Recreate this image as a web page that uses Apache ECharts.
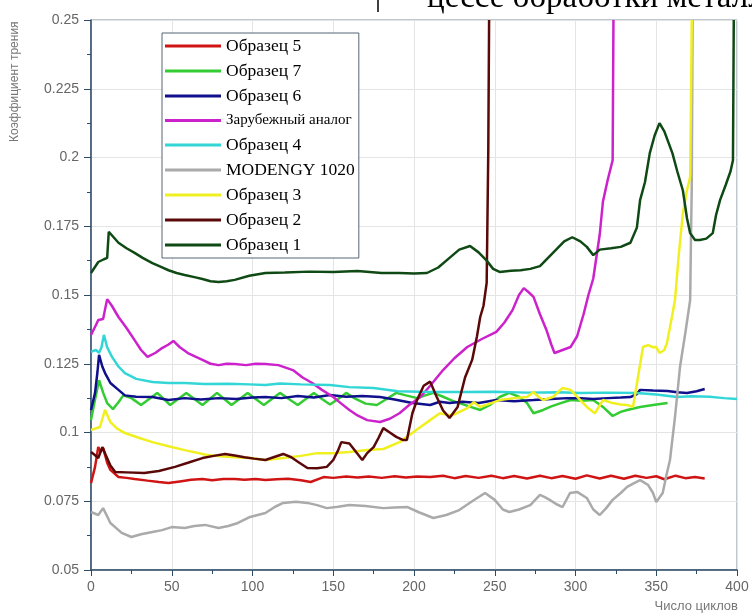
<!DOCTYPE html>
<html><head><meta charset="utf-8">
<script src="https://cdn.jsdelivr.net/npm/echarts@6/dist/echarts.min.js"></script>
<style>html,body{margin:0;padding:0;background:#fff}#c{width:752px;height:615px}</style>
</head><body><div id="c"></div>
<script>
// ---- data ----
const seriesNames = ['Образец 5','Образец 7','Образец 6','Зарубежный аналог','Образец 4','MODENGY 1020','Образец 3','Образец 2','Образец 1'];
const xTicks = [0,50,100,150,200,250,300,350,400];
const yTicks = [0.05,0.075,0.1,0.125,0.15,0.175,0.2,0.225,0.25];

const s5 = [[0,0.0816],[2.5,0.0875],[4.5,0.0947],[6,0.093],[7.5,0.0944],[10,0.089],[12,0.0864],[17,0.0838],[22,0.0835],[27,0.0831],[35,0.0825],[42,0.082],[48,0.0816],[55,0.0822],[62,0.0828],[69,0.0831],[75,0.0826],[82,0.0831],[89,0.0831],[95,0.0828],[102,0.0831],[108,0.0827],[115,0.083],[122,0.0832],[130,0.0826],[136,0.082],[144,0.0838],[150,0.0835],[158,0.084],[165,0.0836],[172,0.084],[180,0.0835],[188,0.0841],[195,0.0836],[202,0.084],[210,0.0838],[218,0.0843],[225,0.0834],[232,0.0842],[240,0.0835],[248,0.0843],[255,0.0834],[262,0.0842],[270,0.0833],[278,0.0843],[285,0.0834],[292,0.0842],[300,0.0832],[307,0.0844],[315,0.0833],[322,0.0843],[330,0.0832],[337,0.0843],[344,0.0835],[350,0.0841],[355,0.083],[362,0.0843],[368,0.0834],[374,0.0838],[380,0.0833]];
const s7 = [[0,0.1045],[2.5,0.112],[5,0.119],[7.5,0.1145],[10,0.1107],[13.6,0.1085],[17,0.111],[20,0.1135],[25,0.1125],[31,0.11],[36,0.1122],[41,0.1144],[45,0.1122],[49,0.11],[54,0.1122],[59,0.1144],[64,0.1122],[69,0.11],[73.5,0.1122],[78,0.1144],[82.5,0.1122],[87,0.11],[92,0.1122],[97,0.1144],[102,0.1122],[107,0.11],[112,0.1122],[117,0.1144],[122.5,0.1122],[128,0.11],[133,0.1122],[138,0.1144],[143,0.1122],[148,0.1102],[153,0.1122],[158,0.1144],[163,0.1125],[170,0.1105],[177,0.11],[183,0.1122],[189,0.1144],[195,0.1135],[202,0.1125],[207,0.1135],[212,0.1144],[218,0.113],[224,0.1115],[230,0.1103],[235,0.1093],[241,0.1082],[247,0.11],[253,0.1129],[259,0.1144],[265,0.113],[270,0.1107],[274,0.107],[280,0.1082],[285,0.1095],[290,0.1105],[297,0.1118],[304,0.1115],[311,0.1118],[317,0.1093],[323,0.106],[328,0.1075],[332,0.1082],[340,0.1093],[348,0.11],[357,0.1107]];
const s6 = [[0,0.1082],[2.5,0.1144],[4,0.122],[5,0.1282],[7,0.124],[8.7,0.1216],[12,0.118],[17,0.1155],[21,0.1135],[28,0.113],[38,0.1129],[48,0.1118],[58,0.1125],[68,0.112],[79,0.1125],[90,0.1122],[100,0.1127],[108,0.1129],[118,0.1125],[128,0.1133],[138,0.1127],[148,0.1136],[158,0.113],[168,0.1133],[179,0.1129],[188,0.112],[199,0.1107],[210,0.11],[216,0.1112],[222,0.1107],[230,0.1112],[240,0.1107],[251,0.1118],[262,0.1114],[274,0.1118],[285,0.1122],[295,0.1125],[303,0.1125],[311,0.1122],[320,0.1125],[328,0.1127],[334,0.1129],[338,0.114],[340,0.1155],[348,0.1153],[357,0.1151],[363,0.1146],[369,0.1144],[375,0.115],[380,0.1158]];
const sForeign = [[0,0.1355],[3,0.139],[4.5,0.1409],[7.5,0.1413],[10,0.1485],[13,0.146],[17,0.142],[22,0.138],[27,0.1336],[31,0.13],[35,0.1275],[40,0.129],[44,0.1307],[48,0.132],[51,0.1333],[55,0.131],[60,0.1289],[65,0.1275],[69,0.1264],[74,0.125],[79,0.1245],[84,0.125],[89,0.1249],[96,0.1245],[102,0.125],[108,0.1249],[116,0.1245],[125,0.1227],[131,0.12],[137,0.118],[143,0.1155],[150,0.1129],[155,0.1105],[160,0.1082],[165,0.1062],[171,0.1045],[179,0.1038],[185,0.105],[191,0.107],[197,0.11],[204,0.1129],[210,0.117],[218,0.1227],[225,0.127],[233,0.1311],[242,0.134],[251,0.1366],[256,0.14],[261,0.1445],[265,0.15],[268,0.1525],[271,0.151],[274,0.1493],[278,0.143],[282,0.1373],[285,0.132],[287,0.1289],[292,0.13],[297,0.1311],[301,0.135],[305,0.143],[308,0.15],[311,0.156],[315,0.172],[317,0.184],[320,0.192],[323,0.199],[323.5,0.25]];
const s4 = [[0,0.1293],[3,0.13],[5,0.129],[6.5,0.131],[8,0.1355],[10,0.131],[13,0.1275],[17,0.124],[21,0.1216],[28,0.1195],[38,0.1184],[48,0.118],[58,0.118],[70,0.1176],[85,0.1177],[98,0.1175],[108,0.1173],[117,0.1178],[130,0.1175],[148,0.1173],[160,0.1165],[175,0.1162],[190,0.115],[210,0.1147],[230,0.1147],[250,0.1148],[270,0.1145],[290,0.1146],[303,0.1144],[320,0.1145],[338,0.1144],[350,0.1138],[363,0.1129],[372,0.1132],[383,0.113],[392,0.1125],[400,0.1122]];
const sModengy = [[0,0.0711],[4.5,0.07],[7.5,0.0725],[12,0.0671],[19,0.0635],[25,0.062],[31,0.063],[38,0.0638],[44,0.0645],[50,0.0656],[58,0.0653],[64,0.066],[70.6,0.0664],[79,0.0653],[85,0.066],[91,0.0671],[98.5,0.0693],[108,0.0707],[114,0.073],[119,0.0744],[127,0.0748],[134,0.0744],[140,0.0736],[146,0.0725],[153,0.073],[160,0.0736],[170,0.0733],[181,0.0725],[188,0.0727],[196,0.0729],[203,0.071],[212,0.0689],[220,0.07],[228,0.0718],[236,0.075],[244,0.078],[250,0.0755],[255,0.072],[259,0.0711],[265,0.072],[272,0.0736],[278,0.0773],[281,0.0765],[284,0.0755],[288,0.074],[292,0.0729],[296.6,0.078],[301,0.0784],[307,0.0762],[311,0.072],[315,0.07],[319,0.0725],[323,0.0755],[328,0.078],[332,0.0802],[336,0.0815],[340,0.0827],[345,0.0809],[348,0.078],[350,0.0747],[354,0.078],[356.5,0.085],[358.5,0.09],[361.6,0.1056],[364.7,0.1238],[368,0.1362],[371,0.1482],[371.5,0.17],[372,0.19],[372.5,0.25]];
const s3 = [[0,0.1009],[5.5,0.102],[8.7,0.1082],[12,0.1038],[16,0.1015],[21,0.0998],[30,0.098],[38,0.0965],[48,0.095],[58,0.0936],[72,0.0918],[80,0.0914],[89,0.091],[98.5,0.0907],[108,0.09],[119,0.0907],[130,0.0915],[140,0.0925],[150,0.0925],[160,0.0929],[171,0.0936],[181,0.094],[191,0.0965],[197,0.099],[204,0.102],[210,0.1045],[216,0.107],[220,0.1065],[224,0.1063],[233,0.1089],[237,0.111],[241,0.1093],[247,0.1105],[253,0.1118],[262,0.1125],[270,0.1129],[274,0.1147],[277,0.113],[280,0.1118],[286,0.1129],[292,0.1162],[297,0.1155],[303,0.1118],[307,0.1093],[312,0.107],[317,0.1118],[323,0.1107],[328,0.1102],[332,0.11],[335.6,0.1093],[338.7,0.1202],[341.8,0.1311],[345,0.1318],[348,0.131],[350,0.1311],[352,0.1289],[355,0.13],[356.6,0.1325],[359.7,0.142],[361.6,0.1482],[364,0.165],[366.5,0.1798],[369,0.188],[371,0.193],[371.5,0.22],[372,0.25]];
const s2 = [[0,0.0929],[2,0.092],[4.5,0.0907],[7,0.0947],[9,0.092],[12,0.088],[15,0.0856],[22,0.0855],[33,0.0853],[42,0.086],[52,0.0875],[60,0.089],[69,0.0907],[76,0.0915],[83,0.0922],[89,0.0916],[95,0.091],[101,0.0905],[108,0.09],[113,0.091],[119,0.0922],[124,0.091],[129,0.089],[134,0.0871],[140,0.087],[146,0.0875],[150,0.09],[153,0.0935],[155,0.0965],[160,0.096],[164,0.093],[168,0.09],[171,0.0925],[175,0.0947],[178,0.098],[181,0.1016],[185,0.1],[189,0.0984],[193,0.0973],[195.6,0.0973],[199,0.107],[202,0.112],[206,0.117],[210,0.1185],[214,0.113],[218,0.108],[222,0.1053],[227,0.1093],[231.6,0.12],[236,0.1264],[239,0.135],[241,0.142],[243,0.146],[245,0.1544],[246,0.2027],[246.5,0.25]];
const s1 = [[0,0.158],[4.5,0.162],[8,0.163],[10,0.1635],[11,0.173],[14,0.171],[17,0.169],[22,0.167],[27,0.1653],[32,0.1635],[38,0.1616],[43,0.1603],[48,0.159],[53,0.158],[58,0.1573],[64,0.1565],[69,0.1558],[74,0.155],[79,0.1547],[84,0.155],[89,0.1555],[98,0.157],[108,0.158],[120,0.1582],[135,0.1585],[150,0.1584],[165,0.1587],[180,0.158],[191,0.158],[200,0.1578],[208,0.158],[215,0.16],[222,0.1635],[228,0.1665],[234.7,0.1678],[240,0.1655],[245,0.1625],[249,0.1595],[253,0.1584],[260,0.1588],[266,0.159],[272,0.1595],[278,0.1605],[283,0.1635],[288,0.1665],[293,0.1695],[298,0.171],[303,0.1695],[307,0.1675],[311,0.1645],[315,0.1665],[322,0.167],[328,0.1675],[334,0.169],[338,0.1745],[340,0.1845],[343,0.191],[346,0.2016],[349,0.208],[352,0.2125],[355,0.2095],[360,0.2016],[363,0.195],[366.5,0.188],[369,0.178],[371,0.1725],[374,0.17],[377,0.17],[381,0.1705],[385,0.1725],[387,0.179],[389.5,0.1845],[393,0.19],[396,0.195],[397.5,0.199],[398,0.25]];

const seriesData = [s5, s7, s6, sForeign, s4, sModengy, s3, s2, s1];
const colors = ['#d01414','#33cc33','#10108c','#cc22cc','#33d6d6','#aaaaaa','#f0f020','#5a0808','#0f4a14'];

// ---- chart ----
const chart = echarts.init(document.getElementById('c'), null, {renderer:'canvas'});
const sans = 'Liberation Sans, Arial, sans-serif';
const serif = 'Liberation Serif, Times New Roman, serif';

chart.setOption({
  animation: false,
  backgroundColor: '#fff',
  grid: {left: 91, right: 15, top: 20, bottom: 45, show: true, borderColor: '#7d8f9c', borderWidth: 1, backgroundColor: 'transparent'},
  xAxis: {
    type: 'value', min: xTicks[0], max: xTicks[xTicks.length-1], interval: 50,
    axisLine: {lineStyle: {color: '#2d4a66', width: 1.5}},
    axisTick: {show: true, length: 6, lineStyle: {color: '#2d4a66'}},
    minorTick: {show: true, splitNumber: 2, length: 4, lineStyle: {color: '#2d4a66'}},
    axisLabel: {color: '#666', fontFamily: sans, fontSize: 14, margin: 10},
    splitLine: {show: true, lineStyle: {color: '#e4e4e4', width: 1}}
  },
  yAxis: {
    type: 'value', min: yTicks[0], max: yTicks[yTicks.length-1], interval: 0.025,
    axisLine: {show: true, lineStyle: {color: '#2d4a66', width: 1.5}},
    axisTick: {show: true, length: 7, lineStyle: {color: '#2d4a66'}},
    minorTick: {show: true, splitNumber: 2, length: 4, lineStyle: {color: '#2d4a66'}},
    axisLabel: {color: '#666', fontFamily: sans, fontSize: 14, margin: 12, formatter: v => String(+v.toFixed(3))},
    splitLine: {show: true, lineStyle: {color: '#e4e4e4', width: 1}}
  },
  legend: {
    orient: 'vertical', left: 162, top: 33,
    data: seriesNames,
    icon: 'rect', itemWidth: 56, itemHeight: 3, itemGap: 7,
    padding: [4, 4, 4, 3],
    backgroundColor: '#fff', borderColor: '#556677', borderWidth: 1,
    textStyle: {color: '#000', fontFamily: serif, fontSize: 17.5, lineHeight: 17,
      rich: {s: {fontFamily: serif, fontSize: 15, lineHeight: 17, color: '#000'}}},
    formatter: n => n === 'Зарубежный аналог' ? '{s|' + n + '}' : n
  },
  graphic: [
    {type: 'text', z: 10, silent: true, x: 15, y: 142, rotation: Math.PI/2,
      style: {text: 'Коэффициент трения', font: '12px ' + sans, fill: '#777', align: 'left', verticalAlign: 'middle'}},
    {type: 'text', z: 10, silent: true, x: 738, y: 606,
      style: {text: 'Число циклов', font: '13px ' + sans, fill: '#777', align: 'right', verticalAlign: 'middle'}},
    {type: 'text', z: 10, silent: true, x: 427, y: 15,
      style: {text: 'цессе обработки металлов', font: '33px ' + serif, fill: '#000', align: 'left', verticalAlign: 'bottom'}},
    {type: 'line', z: 10, silent: true, shape: {x1: 378, y1: 0, x2: 378, y2: 12}, style: {stroke: '#000', lineWidth: 1.5}}
  ],
  series: seriesNames.map((n, i) => ({
    name: n, type: 'line', data: seriesData[i], showSymbol: false, symbol: 'none',
    lineStyle: {width: 2.5, color: colors[i]}, itemStyle: {color: colors[i]}, clip: true
  }))
});
</script></body></html>
